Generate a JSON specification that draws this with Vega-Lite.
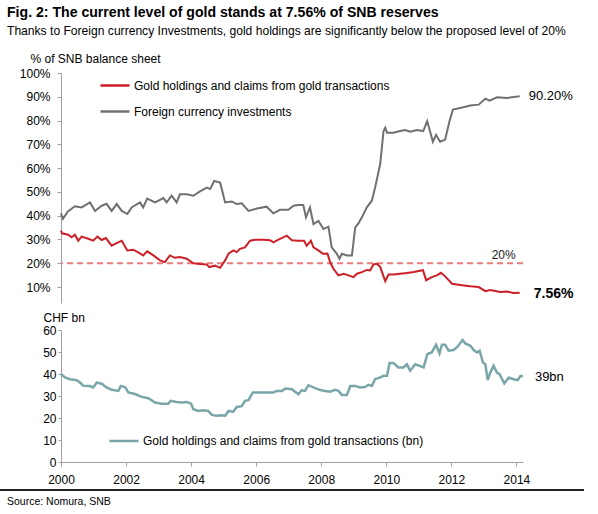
{
  "$schema": "https://vega.github.io/schema/vega-lite/v6.json",
  "background": "white",
  "padding": {"left": 0, "top": 5, "right": 0, "bottom": 0},
  "config": {
    "font": "Liberation Sans",
    "view": {"stroke": null},
    "axis": {
      "labelFont": "Liberation Sans",
      "labelColor": "black",
      "labelFontSize": 12,
      "titleFont": "Liberation Sans",
      "titleColor": "black",
      "titleFontSize": 12,
      "titleFontWeight": "normal",
      "domainColor": "#a0a0a0",
      "tickColor": "#a0a0a0",
      "grid": false,
      "labelFlush": false,
      "labelOverlap": false
    },
    "legend": {
      "labelFont": "Liberation Sans",
      "labelColor": "black",
      "labelFontSize": 12,
      "labelLimit": 400
    }
  },
  "title": {
    "text": "Fig. 2: The current level of gold stands at 7.56% of SNB reserves",
    "subtitle": "Thanks to Foreign currency Investments, gold holdings are significantly below the proposed level of 20%",
    "anchor": "start",
    "frame": "bounds",
    "dx": 7,
    "offset": 15,
    "font": "Liberation Sans",
    "fontSize": 14.1,
    "fontWeight": "bold",
    "color": "black",
    "subtitleFont": "Liberation Sans",
    "subtitleFontSize": 12.1,
    "subtitleColor": "black",
    "subtitlePadding": 5
  },
  "datasets": {
    "pct": [
      {"date": "2000-01-01", "series": "Gold holdings and claims from gold transactions", "value": 0.337},
      {"date": "2000-01-12", "series": "Gold holdings and claims from gold transactions", "value": 0.326},
      {"date": "2000-03-22", "series": "Gold holdings and claims from gold transactions", "value": 0.320},
      {"date": "2000-04-28", "series": "Gold holdings and claims from gold transactions", "value": 0.309},
      {"date": "2000-06-06", "series": "Gold holdings and claims from gold transactions", "value": 0.320},
      {"date": "2000-07-12", "series": "Gold holdings and claims from gold transactions", "value": 0.295},
      {"date": "2000-08-20", "series": "Gold holdings and claims from gold transactions", "value": 0.312},
      {"date": "2000-11-03", "series": "Gold holdings and claims from gold transactions", "value": 0.303},
      {"date": "2000-12-28", "series": "Gold holdings and claims from gold transactions", "value": 0.295},
      {"date": "2001-02-13", "series": "Gold holdings and claims from gold transactions", "value": 0.312},
      {"date": "2001-04-02", "series": "Gold holdings and claims from gold transactions", "value": 0.298},
      {"date": "2001-05-19", "series": "Gold holdings and claims from gold transactions", "value": 0.306},
      {"date": "2001-07-23", "series": "Gold holdings and claims from gold transactions", "value": 0.274},
      {"date": "2001-09-10", "series": "Gold holdings and claims from gold transactions", "value": 0.284},
      {"date": "2001-11-13", "series": "Gold holdings and claims from gold transactions", "value": 0.295},
      {"date": "2002-01-15", "series": "Gold holdings and claims from gold transactions", "value": 0.254},
      {"date": "2002-03-22", "series": "Gold holdings and claims from gold transactions", "value": 0.257},
      {"date": "2002-05-17", "series": "Gold holdings and claims from gold transactions", "value": 0.246},
      {"date": "2002-07-12", "series": "Gold holdings and claims from gold transactions", "value": 0.233},
      {"date": "2002-08-26", "series": "Gold holdings and claims from gold transactions", "value": 0.250},
      {"date": "2002-11-03", "series": "Gold holdings and claims from gold transactions", "value": 0.233},
      {"date": "2003-01-17", "series": "Gold holdings and claims from gold transactions", "value": 0.212},
      {"date": "2003-03-13", "series": "Gold holdings and claims from gold transactions", "value": 0.205},
      {"date": "2003-05-08", "series": "Gold holdings and claims from gold transactions", "value": 0.233},
      {"date": "2003-07-03", "series": "Gold holdings and claims from gold transactions", "value": 0.223},
      {"date": "2003-08-28", "series": "Gold holdings and claims from gold transactions", "value": 0.226},
      {"date": "2003-11-13", "series": "Gold holdings and claims from gold transactions", "value": 0.219},
      {"date": "2004-01-26", "series": "Gold holdings and claims from gold transactions", "value": 0.200},
      {"date": "2004-04-10", "series": "Gold holdings and claims from gold transactions", "value": 0.197},
      {"date": "2004-06-25", "series": "Gold holdings and claims from gold transactions", "value": 0.195},
      {"date": "2004-07-24", "series": "Gold holdings and claims from gold transactions", "value": 0.184},
      {"date": "2004-09-26", "series": "Gold holdings and claims from gold transactions", "value": 0.190},
      {"date": "2004-11-22", "series": "Gold holdings and claims from gold transactions", "value": 0.181},
      {"date": "2005-01-17", "series": "Gold holdings and claims from gold transactions", "value": 0.212},
      {"date": "2005-02-24", "series": "Gold holdings and claims from gold transactions", "value": 0.240},
      {"date": "2005-04-19", "series": "Gold holdings and claims from gold transactions", "value": 0.254},
      {"date": "2005-05-27", "series": "Gold holdings and claims from gold transactions", "value": 0.247},
      {"date": "2005-07-03", "series": "Gold holdings and claims from gold transactions", "value": 0.261},
      {"date": "2005-08-28", "series": "Gold holdings and claims from gold transactions", "value": 0.267},
      {"date": "2005-10-24", "series": "Gold holdings and claims from gold transactions", "value": 0.295},
      {"date": "2005-12-20", "series": "Gold holdings and claims from gold transactions", "value": 0.299},
      {"date": "2006-03-22", "series": "Gold holdings and claims from gold transactions", "value": 0.299},
      {"date": "2006-06-06", "series": "Gold holdings and claims from gold transactions", "value": 0.297},
      {"date": "2006-07-12", "series": "Gold holdings and claims from gold transactions", "value": 0.288},
      {"date": "2006-09-08", "series": "Gold holdings and claims from gold transactions", "value": 0.299},
      {"date": "2006-12-11", "series": "Gold holdings and claims from gold transactions", "value": 0.316},
      {"date": "2007-02-06", "series": "Gold holdings and claims from gold transactions", "value": 0.297},
      {"date": "2007-04-19", "series": "Gold holdings and claims from gold transactions", "value": 0.295},
      {"date": "2007-06-22", "series": "Gold holdings and claims from gold transactions", "value": 0.295},
      {"date": "2007-07-23", "series": "Gold holdings and claims from gold transactions", "value": 0.274},
      {"date": "2007-09-07", "series": "Gold holdings and claims from gold transactions", "value": 0.295},
      {"date": "2007-10-06", "series": "Gold holdings and claims from gold transactions", "value": 0.267},
      {"date": "2007-12-01", "series": "Gold holdings and claims from gold transactions", "value": 0.254},
      {"date": "2008-01-19", "series": "Gold holdings and claims from gold transactions", "value": 0.240},
      {"date": "2008-03-11", "series": "Gold holdings and claims from gold transactions", "value": 0.241},
      {"date": "2008-04-10", "series": "Gold holdings and claims from gold transactions", "value": 0.205},
      {"date": "2008-05-17", "series": "Gold holdings and claims from gold transactions", "value": 0.177},
      {"date": "2008-07-12", "series": "Gold holdings and claims from gold transactions", "value": 0.149},
      {"date": "2008-09-08", "series": "Gold holdings and claims from gold transactions", "value": 0.156},
      {"date": "2008-11-03", "series": "Gold holdings and claims from gold transactions", "value": 0.149},
      {"date": "2008-12-28", "series": "Gold holdings and claims from gold transactions", "value": 0.142},
      {"date": "2009-02-06", "series": "Gold holdings and claims from gold transactions", "value": 0.156},
      {"date": "2009-04-02", "series": "Gold holdings and claims from gold transactions", "value": 0.163},
      {"date": "2009-05-27", "series": "Gold holdings and claims from gold transactions", "value": 0.172},
      {"date": "2009-07-03", "series": "Gold holdings and claims from gold transactions", "value": 0.170},
      {"date": "2009-08-10", "series": "Gold holdings and claims from gold transactions", "value": 0.195},
      {"date": "2009-09-18", "series": "Gold holdings and claims from gold transactions", "value": 0.198},
      {"date": "2009-10-24", "series": "Gold holdings and claims from gold transactions", "value": 0.185},
      {"date": "2009-12-20", "series": "Gold holdings and claims from gold transactions", "value": 0.125},
      {"date": "2010-01-26", "series": "Gold holdings and claims from gold transactions", "value": 0.153},
      {"date": "2010-03-22", "series": "Gold holdings and claims from gold transactions", "value": 0.153},
      {"date": "2010-06-06", "series": "Gold holdings and claims from gold transactions", "value": 0.156},
      {"date": "2010-08-20", "series": "Gold holdings and claims from gold transactions", "value": 0.159},
      {"date": "2010-11-03", "series": "Gold holdings and claims from gold transactions", "value": 0.163},
      {"date": "2011-02-17", "series": "Gold holdings and claims from gold transactions", "value": 0.171},
      {"date": "2011-03-24", "series": "Gold holdings and claims from gold transactions", "value": 0.129},
      {"date": "2011-05-27", "series": "Gold holdings and claims from gold transactions", "value": 0.142},
      {"date": "2011-07-23", "series": "Gold holdings and claims from gold transactions", "value": 0.149},
      {"date": "2011-09-07", "series": "Gold holdings and claims from gold transactions", "value": 0.160},
      {"date": "2011-10-24", "series": "Gold holdings and claims from gold transactions", "value": 0.145},
      {"date": "2012-01-09", "series": "Gold holdings and claims from gold transactions", "value": 0.114},
      {"date": "2012-04-28", "series": "Gold holdings and claims from gold transactions", "value": 0.108},
      {"date": "2012-08-02", "series": "Gold holdings and claims from gold transactions", "value": 0.103},
      {"date": "2012-11-03", "series": "Gold holdings and claims from gold transactions", "value": 0.100},
      {"date": "2013-01-17", "series": "Gold holdings and claims from gold transactions", "value": 0.083},
      {"date": "2013-03-13", "series": "Gold holdings and claims from gold transactions", "value": 0.088},
      {"date": "2013-07-03", "series": "Gold holdings and claims from gold transactions", "value": 0.079},
      {"date": "2013-09-18", "series": "Gold holdings and claims from gold transactions", "value": 0.081},
      {"date": "2013-12-01", "series": "Gold holdings and claims from gold transactions", "value": 0.075},
      {"date": "2014-02-07", "series": "Gold holdings and claims from gold transactions", "value": 0.0756},
      {"date": "2000-01-01", "series": "Foreign currency investments", "value": 0.410},
      {"date": "2000-01-23", "series": "Foreign currency investments", "value": 0.387},
      {"date": "2000-03-18", "series": "Foreign currency investments", "value": 0.418},
      {"date": "2000-06-06", "series": "Foreign currency investments", "value": 0.440},
      {"date": "2000-08-20", "series": "Foreign currency investments", "value": 0.435},
      {"date": "2000-11-22", "series": "Foreign currency investments", "value": 0.456},
      {"date": "2001-01-17", "series": "Foreign currency investments", "value": 0.420},
      {"date": "2001-04-02", "series": "Foreign currency investments", "value": 0.442},
      {"date": "2001-05-27", "series": "Foreign currency investments", "value": 0.450},
      {"date": "2001-07-23", "series": "Foreign currency investments", "value": 0.420},
      {"date": "2001-09-18", "series": "Foreign currency investments", "value": 0.449},
      {"date": "2001-11-13", "series": "Foreign currency investments", "value": 0.420},
      {"date": "2002-01-15", "series": "Foreign currency investments", "value": 0.407},
      {"date": "2002-03-04", "series": "Foreign currency investments", "value": 0.435},
      {"date": "2002-06-06", "series": "Foreign currency investments", "value": 0.456},
      {"date": "2002-07-12", "series": "Foreign currency investments", "value": 0.435},
      {"date": "2002-08-26", "series": "Foreign currency investments", "value": 0.472},
      {"date": "2002-11-22", "series": "Foreign currency investments", "value": 0.456},
      {"date": "2003-02-24", "series": "Foreign currency investments", "value": 0.474},
      {"date": "2003-04-02", "series": "Foreign currency investments", "value": 0.456},
      {"date": "2003-05-27", "series": "Foreign currency investments", "value": 0.484},
      {"date": "2003-07-23", "series": "Foreign currency investments", "value": 0.456},
      {"date": "2003-08-28", "series": "Foreign currency investments", "value": 0.490},
      {"date": "2003-11-13", "series": "Foreign currency investments", "value": 0.490},
      {"date": "2004-01-26", "series": "Foreign currency investments", "value": 0.484},
      {"date": "2004-04-10", "series": "Foreign currency investments", "value": 0.502},
      {"date": "2004-06-25", "series": "Foreign currency investments", "value": 0.518},
      {"date": "2004-08-02", "series": "Foreign currency investments", "value": 0.512},
      {"date": "2004-09-16", "series": "Foreign currency investments", "value": 0.546},
      {"date": "2004-11-22", "series": "Foreign currency investments", "value": 0.539},
      {"date": "2005-01-17", "series": "Foreign currency investments", "value": 0.456},
      {"date": "2005-04-02", "series": "Foreign currency investments", "value": 0.460},
      {"date": "2005-05-27", "series": "Foreign currency investments", "value": 0.449},
      {"date": "2005-07-23", "series": "Foreign currency investments", "value": 0.452},
      {"date": "2005-10-06", "series": "Foreign currency investments", "value": 0.420},
      {"date": "2006-01-09", "series": "Foreign currency investments", "value": 0.430},
      {"date": "2006-04-28", "series": "Foreign currency investments", "value": 0.438},
      {"date": "2006-07-12", "series": "Foreign currency investments", "value": 0.410},
      {"date": "2006-09-26", "series": "Foreign currency investments", "value": 0.425},
      {"date": "2006-12-28", "series": "Foreign currency investments", "value": 0.425},
      {"date": "2007-02-24", "series": "Foreign currency investments", "value": 0.442},
      {"date": "2007-04-19", "series": "Foreign currency investments", "value": 0.445},
      {"date": "2007-06-14", "series": "Foreign currency investments", "value": 0.445},
      {"date": "2007-07-14", "series": "Foreign currency investments", "value": 0.393},
      {"date": "2007-08-28", "series": "Foreign currency investments", "value": 0.435},
      {"date": "2007-10-06", "series": "Foreign currency investments", "value": 0.365},
      {"date": "2007-12-01", "series": "Foreign currency investments", "value": 0.378},
      {"date": "2008-01-26", "series": "Foreign currency investments", "value": 0.344},
      {"date": "2008-03-22", "series": "Foreign currency investments", "value": 0.354},
      {"date": "2008-04-28", "series": "Foreign currency investments", "value": 0.267},
      {"date": "2008-06-25", "series": "Foreign currency investments", "value": 0.240},
      {"date": "2008-07-24", "series": "Foreign currency investments", "value": 0.219},
      {"date": "2008-08-20", "series": "Foreign currency investments", "value": 0.240},
      {"date": "2008-10-16", "series": "Foreign currency investments", "value": 0.233},
      {"date": "2008-12-11", "series": "Foreign currency investments", "value": 0.233},
      {"date": "2009-01-17", "series": "Foreign currency investments", "value": 0.351},
      {"date": "2009-02-24", "series": "Foreign currency investments", "value": 0.369},
      {"date": "2009-04-02", "series": "Foreign currency investments", "value": 0.393},
      {"date": "2009-05-27", "series": "Foreign currency investments", "value": 0.435},
      {"date": "2009-07-23", "series": "Foreign currency investments", "value": 0.463},
      {"date": "2009-08-28", "series": "Foreign currency investments", "value": 0.518},
      {"date": "2009-10-24", "series": "Foreign currency investments", "value": 0.616},
      {"date": "2009-12-01", "series": "Foreign currency investments", "value": 0.756},
      {"date": "2009-12-20", "series": "Foreign currency investments", "value": 0.770},
      {"date": "2010-01-09", "series": "Foreign currency investments", "value": 0.749},
      {"date": "2010-03-22", "series": "Foreign currency investments", "value": 0.749},
      {"date": "2010-06-06", "series": "Foreign currency investments", "value": 0.756},
      {"date": "2010-08-02", "series": "Foreign currency investments", "value": 0.760},
      {"date": "2010-09-26", "series": "Foreign currency investments", "value": 0.753},
      {"date": "2010-12-11", "series": "Foreign currency investments", "value": 0.760},
      {"date": "2011-02-20", "series": "Foreign currency investments", "value": 0.756},
      {"date": "2011-04-05", "series": "Foreign currency investments", "value": 0.798},
      {"date": "2011-06-08", "series": "Foreign currency investments", "value": 0.711},
      {"date": "2011-07-14", "series": "Foreign currency investments", "value": 0.740},
      {"date": "2011-08-28", "series": "Foreign currency investments", "value": 0.711},
      {"date": "2011-10-24", "series": "Foreign currency investments", "value": 0.720},
      {"date": "2011-12-12", "series": "Foreign currency investments", "value": 0.798},
      {"date": "2012-01-19", "series": "Foreign currency investments", "value": 0.846},
      {"date": "2012-04-10", "series": "Foreign currency investments", "value": 0.853},
      {"date": "2012-08-02", "series": "Foreign currency investments", "value": 0.863},
      {"date": "2012-11-03", "series": "Foreign currency investments", "value": 0.867},
      {"date": "2013-01-17", "series": "Foreign currency investments", "value": 0.892},
      {"date": "2013-03-05", "series": "Foreign currency investments", "value": 0.884},
      {"date": "2013-05-27", "series": "Foreign currency investments", "value": 0.898},
      {"date": "2013-09-18", "series": "Foreign currency investments", "value": 0.895},
      {"date": "2014-02-07", "series": "Foreign currency investments", "value": 0.902}
    ],
    "gold": [
      {"date": "2000-01-01", "bn": 40.0},
      {"date": "2000-02-15", "bn": 38.4},
      {"date": "2000-04-10", "bn": 37.6},
      {"date": "2000-06-25", "bn": 37.2},
      {"date": "2000-08-02", "bn": 36.1},
      {"date": "2000-09-08", "bn": 34.6},
      {"date": "2000-11-22", "bn": 34.5},
      {"date": "2000-12-28", "bn": 33.9},
      {"date": "2001-02-06", "bn": 36.1},
      {"date": "2001-04-02", "bn": 35.6},
      {"date": "2001-05-27", "bn": 33.9},
      {"date": "2001-07-23", "bn": 32.8},
      {"date": "2001-10-06", "bn": 32.3},
      {"date": "2001-11-02", "bn": 34.6},
      {"date": "2001-12-20", "bn": 34.1},
      {"date": "2002-01-26", "bn": 31.6},
      {"date": "2002-04-10", "bn": 30.9},
      {"date": "2002-06-25", "bn": 29.6},
      {"date": "2002-09-08", "bn": 29.0},
      {"date": "2002-11-22", "bn": 27.0},
      {"date": "2003-02-06", "bn": 26.5},
      {"date": "2003-04-19", "bn": 26.5},
      {"date": "2003-05-16", "bn": 27.8},
      {"date": "2003-07-23", "bn": 27.3},
      {"date": "2003-09-18", "bn": 27.0},
      {"date": "2003-11-13", "bn": 27.3},
      {"date": "2004-01-01", "bn": 26.5},
      {"date": "2004-01-26", "bn": 24.0},
      {"date": "2004-03-22", "bn": 23.2},
      {"date": "2004-05-17", "bn": 23.5},
      {"date": "2004-07-12", "bn": 23.2},
      {"date": "2004-08-20", "bn": 21.4},
      {"date": "2004-10-16", "bn": 21.0},
      {"date": "2004-12-11", "bn": 21.2},
      {"date": "2005-01-17", "bn": 21.0},
      {"date": "2005-02-24", "bn": 23.2},
      {"date": "2005-04-19", "bn": 22.9},
      {"date": "2005-05-27", "bn": 25.0},
      {"date": "2005-07-23", "bn": 25.4},
      {"date": "2005-08-28", "bn": 27.8},
      {"date": "2005-10-06", "bn": 28.1},
      {"date": "2005-11-24", "bn": 31.6},
      {"date": "2006-02-15", "bn": 31.6},
      {"date": "2006-04-28", "bn": 31.6},
      {"date": "2006-07-12", "bn": 31.6},
      {"date": "2006-08-20", "bn": 32.3},
      {"date": "2006-10-16", "bn": 32.3},
      {"date": "2006-11-22", "bn": 33.4},
      {"date": "2007-02-06", "bn": 33.1},
      {"date": "2007-04-19", "bn": 30.8},
      {"date": "2007-05-27", "bn": 32.6},
      {"date": "2007-07-03", "bn": 32.3},
      {"date": "2007-08-10", "bn": 34.9},
      {"date": "2007-10-06", "bn": 33.9},
      {"date": "2007-12-20", "bn": 32.7},
      {"date": "2008-02-15", "bn": 32.3},
      {"date": "2008-04-10", "bn": 32.0},
      {"date": "2008-06-06", "bn": 32.8},
      {"date": "2008-07-12", "bn": 32.3},
      {"date": "2008-08-20", "bn": 30.5},
      {"date": "2008-10-16", "bn": 30.5},
      {"date": "2008-11-22", "bn": 34.6},
      {"date": "2009-01-17", "bn": 34.6},
      {"date": "2009-03-13", "bn": 33.9},
      {"date": "2009-05-08", "bn": 34.1},
      {"date": "2009-06-14", "bn": 35.1},
      {"date": "2009-07-23", "bn": 34.6},
      {"date": "2009-08-28", "bn": 37.7},
      {"date": "2009-10-06", "bn": 38.1},
      {"date": "2009-12-01", "bn": 39.2},
      {"date": "2010-01-09", "bn": 39.2},
      {"date": "2010-02-07", "bn": 45.0},
      {"date": "2010-03-22", "bn": 45.0},
      {"date": "2010-05-17", "bn": 43.0},
      {"date": "2010-07-12", "bn": 43.0},
      {"date": "2010-08-20", "bn": 44.4},
      {"date": "2010-09-26", "bn": 41.5},
      {"date": "2010-11-22", "bn": 44.4},
      {"date": "2011-02-24", "bn": 43.0},
      {"date": "2011-04-08", "bn": 49.1},
      {"date": "2011-05-27", "bn": 49.8},
      {"date": "2011-07-14", "bn": 53.3},
      {"date": "2011-08-21", "bn": 49.4},
      {"date": "2011-09-18", "bn": 53.3},
      {"date": "2011-10-24", "bn": 53.3},
      {"date": "2011-12-01", "bn": 50.6},
      {"date": "2012-01-26", "bn": 50.9},
      {"date": "2012-03-11", "bn": 52.4},
      {"date": "2012-05-06", "bn": 55.4},
      {"date": "2012-06-06", "bn": 53.9},
      {"date": "2012-08-02", "bn": 52.8},
      {"date": "2012-09-08", "bn": 50.9},
      {"date": "2012-10-16", "bn": 49.8},
      {"date": "2012-11-14", "bn": 50.6},
      {"date": "2012-12-22", "bn": 45.2},
      {"date": "2013-01-17", "bn": 44.4},
      {"date": "2013-02-13", "bn": 37.2},
      {"date": "2013-03-13", "bn": 40.6},
      {"date": "2013-04-19", "bn": 43.7},
      {"date": "2013-05-27", "bn": 40.6},
      {"date": "2013-06-26", "bn": 39.9},
      {"date": "2013-08-18", "bn": 35.7},
      {"date": "2013-10-06", "bn": 38.3},
      {"date": "2013-12-01", "bn": 37.6},
      {"date": "2014-01-15", "bn": 37.2},
      {"date": "2014-02-15", "bn": 39.1},
      {"date": "2014-03-15", "bn": 39.1}
    ],
    "proposed": [
      {"level": 0.2}
    ]
  },
  "spacing": 27,
  "bounds": "flush",
  "center": true,
  "resolve": {
    "scale": {"color": "independent"},
    "legend": {"color": "independent"}
  },
  "vconcat": [
    {
      "width": 462,
      "height": 230,
      "layer": [
        {
          "data": {"name": "proposed"},
          "mark": {"type": "rule", "color": "#ef7a7a", "strokeWidth": 2, "strokeDash": [6, 4]},
          "encoding": {
            "y": {"field": "level", "type": "quantitative"}
          }
        },
        {
          "data": {"name": "pct"},
          "mark": {"type": "line", "strokeWidth": 2},
          "encoding": {
            "x": {
              "field": "date",
              "type": "temporal",
              "scale": {
                "type": "utc",
                "domain": [
                  {"year": 2000, "month": 1, "date": 1, "utc": true},
                  {"year": 2014, "month": 3, "date": 16, "utc": true}
                ]
              },
              "axis": null
            },
            "y": {
              "field": "value",
              "type": "quantitative",
              "scale": {"domain": [0.033, 1], "nice": false, "zero": false},
              "axis": {
                "values": [0.1, 0.2, 0.3, 0.4, 0.5, 0.6, 0.7, 0.8, 0.9, 1.0],
                "tickCount": 20,
                "format": ".0%",
                "labelOverlap": false,
                "tickSize": 4,
                "labelPadding": 7,
                "title": "% of SNB balance sheet",
                "titleAngle": 0,
                "titleAlign": "left",
                "titleBaseline": "middle",
                "titleX": -31,
                "titleY": -15
              }
            },
            "color": {
              "field": "series",
              "type": "nominal",
              "scale": {
                "domain": ["Gold holdings and claims from gold transactions", "Foreign currency investments"],
                "range": ["#cc1f26", "#707070"]
              },
              "legend": {
                "orient": "none",
                "legendX": 38,
                "legendY": -3.5,
                "title": null,
                "symbolType": "stroke",
                "symbolSize": 841,
                "symbolStrokeWidth": 2.5,
                "labelOffset": 3,
                "rowPadding": 4,
                "padding": 0
              }
            }
          }
        },
        {
          "data": {"name": "pct"},
          "mark": {"type": "text", "align": "right", "baseline": "middle", "dx": -4, "dy": -8, "fontSize": 12, "color": "#222222"},
          "encoding": {
            "x": {"aggregate": "max", "field": "date", "type": "temporal"},
            "y": {"datum": 0.2},
            "text": {"value": "20%"}
          }
        },
        {
          "data": {"name": "pct"},
          "transform": [
            {"filter": {"field": "series", "equal": "Foreign currency investments"}},
            {"window": [{"op": "row_number", "as": "rn"}], "sort": [{"field": "date", "order": "descending"}]},
            {"filter": "datum.rn == 1"}
          ],
          "mark": {"type": "text", "align": "left", "baseline": "middle", "dx": 9, "fontSize": 13, "color": "black"},
          "encoding": {
            "x": {"field": "date", "type": "temporal"},
            "y": {"field": "value", "type": "quantitative"},
            "text": {"field": "value", "format": ".2%"}
          }
        },
        {
          "data": {"name": "pct"},
          "transform": [
            {"filter": {"field": "series", "equal": "Gold holdings and claims from gold transactions"}},
            {"window": [{"op": "row_number", "as": "rn"}], "sort": [{"field": "date", "order": "descending"}]},
            {"filter": "datum.rn == 1"}
          ],
          "mark": {"type": "text", "align": "left", "baseline": "middle", "dx": 14, "dy": 1, "fontSize": 14, "fontWeight": "bold", "color": "black"},
          "encoding": {
            "x": {"field": "date", "type": "temporal"},
            "y": {"field": "value", "type": "quantitative"},
            "text": {"field": "value", "format": ".2%"}
          }
        }
      ]
    },
    {
      "width": 462,
      "height": 132,
      "data": {"name": "gold"},
      "layer": [
        {
          "mark": {"type": "line", "strokeWidth": 2.5},
          "encoding": {
            "x": {
              "field": "date",
              "type": "temporal",
              "scale": {
                "type": "utc",
                "domain": [
                  {"year": 2000, "month": 1, "date": 1, "utc": true},
                  {"year": 2014, "month": 3, "date": 16, "utc": true}
                ]
              },
              "axis": {
                "tickCount": {"interval": "year", "step": 2},
                "format": "%Y",
                "tickSize": 4,
                "labelPadding": 8,
                "title": null
              }
            },
            "y": {
              "field": "bn",
              "type": "quantitative",
              "scale": {"domain": [0, 60], "nice": false},
              "axis": {
                "values": [0, 10, 20, 30, 40, 50, 60],
                "tickCount": 20,
                "labelOverlap": false,
                "tickSize": 3,
                "labelPadding": 2,
                "title": "CHF bn",
                "titleAngle": 0,
                "titleAlign": "left",
                "titleBaseline": "middle",
                "titleX": -18,
                "titleY": -13
              }
            },
            "color": {
              "datum": "Gold holdings and claims from gold transactions (bn)",
              "scale": {"range": ["#7aa6a9"]},
              "legend": {
                "orient": "none",
                "legendX": 47,
                "legendY": 95,
                "title": null,
                "symbolType": "stroke",
                "symbolSize": 841,
                "symbolStrokeWidth": 2.5,
                "labelOffset": 3,
                "padding": 0
              }
            }
          }
        },
        {
          "transform": [
            {"window": [{"op": "row_number", "as": "rn"}], "sort": [{"field": "date", "order": "descending"}]},
            {"filter": "datum.rn == 1"},
            {"calculate": "format(datum.bn, '.0f') + 'bn'", "as": "label"}
          ],
          "mark": {"type": "text", "align": "left", "baseline": "middle", "dx": 12, "dy": 1, "fontSize": 13, "color": "black"},
          "encoding": {
            "x": {"field": "date", "type": "temporal"},
            "y": {"field": "bn", "type": "quantitative"},
            "text": {"field": "label"}
          }
        }
      ]
    },
    {
      "width": 584,
      "height": 2,
      "data": {"values": []},
      "mark": "point",
      "view": {"fill": "#222222", "stroke": null},
      "title": {
        "text": "Source: Nomura, SNB",
        "orient": "bottom",
        "anchor": "start",
        "frame": "bounds",
        "dx": 7,
        "offset": 6,
        "fontSize": 10.5,
        "fontWeight": "normal",
        "color": "black"
      }
    }
  ]
}
